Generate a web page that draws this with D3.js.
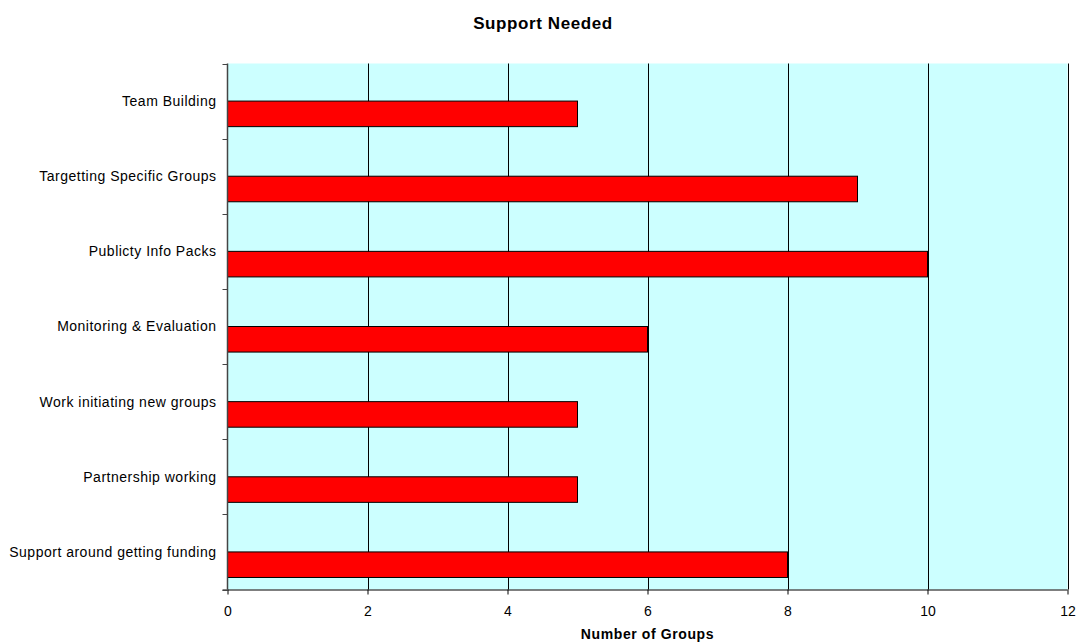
<!DOCTYPE html>
<html>
<head>
<meta charset="utf-8">
<script src="https://cdn.jsdelivr.net/npm/d3@7"></script>
<style>
  body { margin: 0; background: #fff; }
  svg { display: block; font-family: "Liberation Sans", Arial, sans-serif; }
</style>
</head>
<body>
<svg id="chart" width="1078" height="643"></svg>
<script>
// Support areas requested and how many groups asked for each
const categories = [
  "Team Building",
  "Targetting Specific Groups",
  "Publicty Info Packs",
  "Monitoring & Evaluation",
  "Work initiating new groups",
  "Partnership working",
  "Support around getting funding"
];
const groupCounts = [5, 9, 10, 6, 5, 5, 8];
const xTicks = [0, 2, 4, 6, 8, 10, 12];
const chartTitle = "Support Needed";
const xAxisTitle = "Number of Groups";

const svg = d3.select("#chart");
const plot = { left: 227.5, right: 1067.5, top: 63.5, bottom: 589.5 };

const x = d3.scaleLinear().domain([0, 12]).range([plot.left, plot.right]);
const y = d3.scaleBand().domain(categories).range([plot.top, plot.bottom]).padding(0);
// two slots per category; the counts sit in the lower slot
const slot = d3.scaleBand().domain(["spare", "groups"]).range([0, y.bandwidth()])
  .paddingInner(0).paddingOuter(0.47);

const data = categories.map((c, i) => ({ category: c, value: groupCounts[i] }));

// plot background
svg.append("rect")
  .attr("x", plot.left).attr("y", plot.top)
  .attr("width", plot.right - plot.left).attr("height", plot.bottom - plot.top)
  .attr("fill", "#CCFFFF");

// vertical gridlines
svg.append("g").selectAll("line")
  .data(xTicks.filter(t => t > 0))
  .join("line")
  .attr("x1", d => Math.round(x(d)) + 0.5).attr("x2", d => Math.round(x(d)) + 0.5)
  .attr("y1", plot.top).attr("y2", plot.bottom)
  .attr("stroke", "#000").attr("stroke-width", 1);

// bars
svg.append("g").selectAll("rect")
  .data(data)
  .join("rect")
  .attr("x", x(0))
  .attr("y", d => y(d.category) + slot("groups"))
  .attr("width", d => x(d.value) - x(0))
  .attr("height", slot.bandwidth())
  .attr("fill", "#FF0000")
  .attr("stroke", "#000")
  .attr("stroke-width", 1);

// x axis
const xAxis = svg.append("g")
  .attr("transform", `translate(0,${plot.bottom})`)
  .call(d3.axisBottom(x).tickValues(xTicks).tickSize(5).tickPadding(12).tickFormat(d3.format("d")));
xAxis.select(".domain").attr("stroke", "#000").attr("d", `M${plot.left - 5},0.5H${plot.right}`);
xAxis.selectAll(".tick line").attr("stroke", "#000");
xAxis.selectAll(".tick text").attr("font-size", 14).attr("fill", "#000")
  .attr("font-family", "Liberation Sans, Arial, sans-serif");

// y axis: ticks on category boundaries, labels at category centres
const yAxis = svg.append("g").attr("transform", `translate(${plot.left},0)`);
yAxis.append("line")
  .attr("x1", 0).attr("x2", 0).attr("y1", plot.top).attr("y2", plot.bottom)
  .attr("stroke", "#444").attr("stroke-width", 1.5);
const boundaries = categories.map(c => y(c)).concat([plot.bottom]);
yAxis.selectAll("line.tick")
  .data(boundaries)
  .join("line").attr("class", "tick")
  .attr("x1", -5).attr("x2", 0)
  .attr("y1", d => Math.round(d) + 0.5).attr("y2", d => Math.round(d) + 0.5)
  .attr("stroke", "#444");
yAxis.selectAll("text")
  .data(categories)
  .join("text")
  .attr("x", -11)
  .attr("y", d => y(d) + y.bandwidth() / 2)
  .attr("dy", "0.35em")
  .attr("text-anchor", "end")
  .attr("font-size", 14)
  .attr("letter-spacing", 0.5)
  .attr("fill", "#000")
  .text(d => d);

// titles
svg.append("text")
  .attr("x", 543).attr("y", 29)
  .attr("text-anchor", "middle")
  .attr("font-size", 17).attr("font-weight", "bold")
  .attr("letter-spacing", 0.6)
  .text(chartTitle);
svg.append("text")
  .attr("x", x(6)).attr("y", 639)
  .attr("text-anchor", "middle")
  .attr("font-size", 14).attr("font-weight", "bold")
  .attr("letter-spacing", 0.6)
  .text(xAxisTitle);
</script>
</body>
</html>
